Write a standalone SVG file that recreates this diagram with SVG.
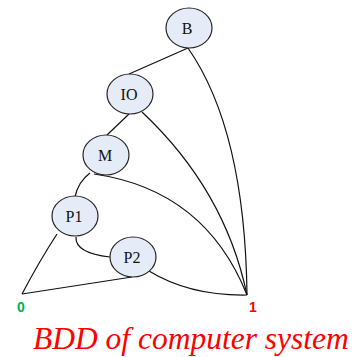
<svg xmlns="http://www.w3.org/2000/svg" width="356" height="357" viewBox="0 0 356 357">
<style>
.n ellipse{fill:#E6ECF7;stroke:#262626;stroke-width:1.2}
.n text{font-family:"Liberation Serif",serif;font-size:16px;text-anchor:middle;fill:#111}
.e path{fill:none;stroke:#111;stroke-width:1.2}
.t{font-family:"Liberation Sans",sans-serif;font-size:14px;font-weight:bold;text-anchor:middle}
</style>
<rect width="356" height="357" fill="#fff"/>
<g id="edges" class="e">
<path d="M188,48 L129,74"/>
<path d="M188,48 Q245,130 247,295"/>
<path d="M129,114 L107,135"/>
<path d="M142,112 Q225,190 247,295"/>
<path d="M90,173 Q78,182 75,197"/>
<path d="M94,174 Q205,190 247,295"/>
<path d="M57,234 Q40,260 22,294"/>
<path d="M76,237 Q75,253 110,257"/>
<path d="M22,294 L132,277"/>
<path d="M149,271 Q190,296 247,295"/>
</g>
<g id="B" class="n"><ellipse cx="189" cy="28" rx="23" ry="20"/><text x="187" y="34">B</text></g>
<g id="IO" class="n"><ellipse cx="130" cy="94" rx="23" ry="20"/><text x="129" y="100">IO</text></g>
<g id="M" class="n"><ellipse cx="106" cy="155" rx="23" ry="20"/><text x="105" y="161">M</text></g>
<g id="P1" class="n"><ellipse cx="75" cy="216" rx="23" ry="20"/><text x="74" y="222">P1</text></g>
<g id="P2" class="n"><ellipse cx="133" cy="257" rx="23" ry="20"/><text x="132" y="263">P2</text></g>
<g id="zero"><text class="t" x="21" y="312" fill="#00B050">0</text></g>
<g id="one"><text class="t" x="253" y="312" fill="#FF0000">1</text></g>
<text x="33" y="349" font-family="'Liberation Serif',serif" font-style="italic" font-size="31.5" fill="#FF0000">BDD of computer system</text>
</svg>
